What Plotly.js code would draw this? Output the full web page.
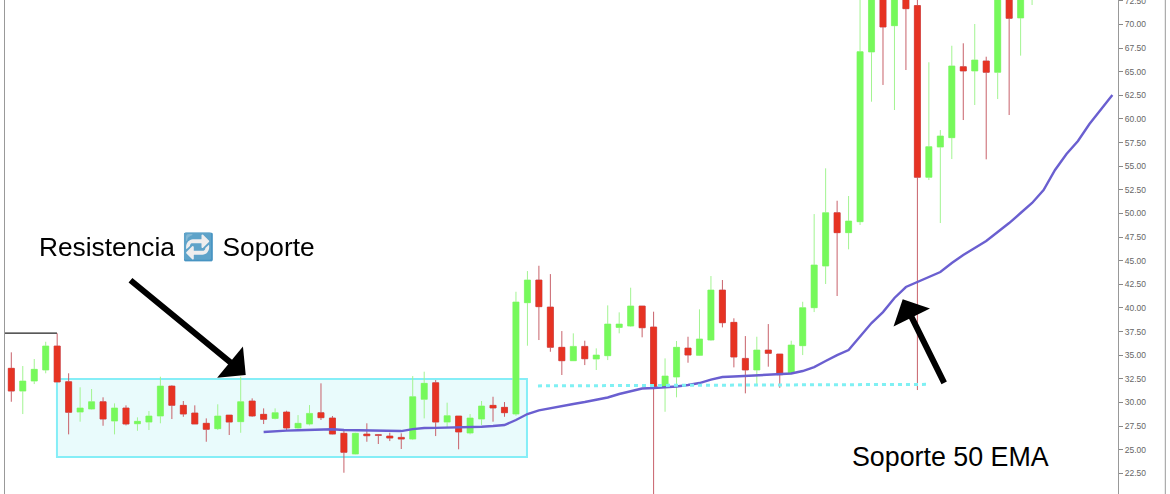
<!DOCTYPE html>
<html><head><meta charset="utf-8">
<script src="https://cdn.plot.ly/plotly-3.0.1.min.js"></script>
<style>html,body{margin:0;padding:0;background:#fff;overflow:hidden;height:494px}
#c{width:1170px;height:514px;position:absolute;left:0;top:-20px}
g.annotation[data-index="2"] text{filter:hue-rotate(172deg) saturate(0.55) brightness(0.95)}</style>
</head><body><div id="c"></div>
<script>
const opens=[33.61,31.20,32.26,33.43,35.97,32.19,28.98,29.30,30.07,28.03,
29.41,27.74,27.92,28.56,31.73,29.69,28.88,27.79,27.22,28.66,
27.96,30.15,28.74,28.31,28.98,27.29,27.71,28.91,28.35,26.73,
24.54,26.65,26.58,26.44,26.30,26.12,30.33,32.08,27.92,28.56,
26.76,28.24,29.69,29.48,28.77,40.55,42.95,40.09,35.83,34.41,
35.93,34.59,34.94,37.94,38.08,40.20,37.98,31.66,32.69,35.75,
34.98,36.60,41.89,38.47,34.66,33.43,35.54,35.12,33.08,36.00,
40.02,44.43,50.07,47.96,49.12,67.08,74.5,69.86,73.5,71.99,
53.82,57.02,58.01,65.52,65.07,66.13,64.93,74,70.68,73.5];
const closes=[31.20,32.26,33.50,35.97,32.16,28.95,29.41,30.07,28.24,29.41,
27.71,28.00,28.56,31.73,29.69,28.77,27.71,27.15,28.56,27.92,
30.07,28.56,28.21,28.91,27.29,27.79,28.84,28.38,26.65,24.72,
26.73,26.47,26.52,26.23,26.12,30.60,32.02,27.92,28.59,26.87,
28.35,29.62,29.41,28.91,40.62,42.95,40.13,35.83,34.41,35.93,
34.62,35.01,38.29,38.29,40.20,37.90,31.66,32.79,35.83,35.01,
36.71,41.89,38.43,34.80,33.43,35.54,35.19,32.93,36.07,40.02,
44.54,50.07,47.96,49.19,67.11,75.0,69.72,74,71.66,53.82,
57.06,58.19,65.60,65.07,66.23,64.93,74,70.64,74,75];
const highs=[35.30,33.85,34.59,36.42,37.31,33.08,31.60,31.42,30.54,29.90,
29.69,28.42,29.09,32.72,31.81,30.15,29.69,28.31,29.80,28.66,
32.72,30.43,29.37,29.37,29.12,28.66,29.72,32.02,28.56,27.00,
26.79,27.79,26.65,26.79,26.73,32.79,33.25,32.37,29.97,28.56,
28.77,30.15,30.60,30.04,41.71,43.90,44.46,43.58,37.55,37.31,
36.53,35.72,40.27,39.53,42.14,40.20,39.60,34.66,36.50,36.95,
39.85,43.37,42.95,38.90,37.02,36.95,38.29,35.12,36.53,40.65,
49.93,54.77,51.34,51.84,73.5,76,76.5,75,75,73.5,
65.99,58.82,67.74,68.00,70.04,66.58,75,75,75,76];
const lows=[30.07,28.77,31.94,33.08,32.16,26.62,27.96,29.25,27.53,26.62,
27.57,27.00,27.08,27.79,28.24,28.48,27.71,25.84,27.08,26.55,
26.79,28.48,27.71,28.21,27.00,27.22,27.57,28.14,26.62,22.56,
24.51,25.84,25.60,25.91,25.07,26.02,28.31,26.44,27.36,25.04,
26.62,27.61,27.96,28.48,28.59,36.00,36.60,35.36,32.90,34.38,
33.95,33.43,34.48,37.31,38.01,36.89,20.0,29.01,30.54,34.20,
34.91,36.53,37.94,33.71,30.96,31.84,33.78,31.55,33.00,35.01,
39.56,42.53,41.26,46.20,48.77,61.82,63.59,60.94,65.17,31.31,
53.53,48.98,55.75,59.88,61.47,55.72,62.10,60.41,66.69,72.05];
const emaStart=22;
const ema=[26.87,26.97,27.02,27.06,27.11,27.15,27.16,27.08,27.05,27.02,26.99,26.97,26.97,27.18,27.29,
27.31,27.33,27.34,27.36,27.43,27.50,27.61,28.14,28.77,29.16,29.41,29.62,29.83,30.04,30.25,
30.52,30.89,31.20,31.47,31.52,31.57,31.68,31.84,32.05,32.42,32.69,32.74,32.79,32.90,32.95,
32.97,33.06,33.32,33.74,34.38,35.01,35.54,37.02,38.40,39.56,41.05,42.21,42.74,43.27,43.80,
44.75,45.60,46.34,47.08,48.03,48.98,50.04,51.10,52.47,54.59,56.28,57.66,59.46,61.05,62.53];
const xRange=[-0.549,96.49], yRange=[20.31,72.58];
const tickVals=[22.5,25,27.5,30,32.5,35,37.5,40,42.5,45,47.5,50,52.5,55,57.5,60,62.5,65,67.5,70,72.5];

const xs=opens.map((_,i)=>i);
const GREEN='#76f95b', RED='#e63323';
const traces=[
 {type:'candlestick',x:xs,open:opens,high:highs,low:lows,close:closes,whiskerwidth:0,hoverinfo:'skip',showlegend:false,
  increasing:{line:{color:'#a2f491',width:1},fillcolor:GREEN},
  decreasing:{line:{color:'#c8616a',width:1},fillcolor:RED}},
 {type:'candlestick',x:xs,open:opens,high:opens.map((v,i)=>Math.max(v,closes[i])),low:opens.map((v,i)=>Math.min(v,closes[i])),close:closes,whiskerwidth:0,hoverinfo:'skip',showlegend:false,
  increasing:{line:{color:GREEN,width:0},fillcolor:GREEN},
  decreasing:{line:{color:RED,width:0},fillcolor:RED}},
 {type:'scatter',mode:'lines',x:ema.map((_,i)=>emaStart+i),y:ema,line:{color:'#6a5fd0',width:2.4},hoverinfo:'skip',showlegend:false},
 {type:'scatter',mode:'lines',x:[45.92,79.83],y:[31.75,31.91],line:{color:'#7ff0f3',width:3,dash:'4px,4px'},hoverinfo:'skip',showlegend:false},
 {type:'scatter',mode:'lines',x:[-0.55,3.98],y:[37.34,37.34],line:{color:'#222',width:1.3},hoverinfo:'skip',showlegend:false}
];
const arrow={xref:'x',yref:'y',axref:'x',ayref:'y',showarrow:true,arrowhead:1,arrowsize:1.13,arrowwidth:6,arrowcolor:'#000',text:'',standoff:0,startstandoff:0};
const label={xref:'paper',yref:'paper',showarrow:false,font:{family:'Liberation Sans, Arial, sans-serif',size:26,color:'#000'},xanchor:'left',yanchor:'middle'};
const layout={
 width:1170,height:514,margin:{l:5,r:52,t:20,b:0,pad:0},paper_bgcolor:'#fff',plot_bgcolor:'#fff',showlegend:false,boxgap:0.24,
 xaxis:{range:xRange,type:'linear',visible:false,fixedrange:true,rangeslider:{visible:false}},
 yaxis:{range:yRange,side:'right',tickmode:'array',tickvals:tickVals,tickformat:'.2f',ticks:'outside',ticklen:4,tickcolor:'#888',tickwidth:1,
  showline:true,mirror:true,linecolor:'#999',linewidth:1,showgrid:false,zeroline:false,tickfont:{family:'Liberation Sans, Arial, sans-serif',size:8.5,color:'#666'},fixedrange:true},
 shapes:[
  {type:'rect',layer:'below',xref:'x',yref:'y',x0:3.98,x1:44.96,y0:24.22,y1:32.47,line:{color:'#85eef7',width:2},fillcolor:'#e9fbfc'},
  {type:'line',xref:'paper',yref:'paper',x0:1.0425,x1:1.0425,y0:0,y1:1,line:{color:'#999',width:1}}
 ],
 annotations:[
  Object.assign({},arrow,{x:20.44,y:32.9,ax:10.26,ay:43.06}),
  Object.assign({},arrow,{x:77.72,y:40.91,ax:81.4,ay:31.91}),
  Object.assign({},label,{x:(37-5)/1113,y:1-247/494,text:'Resistencia 🔁 Soporte',font:{family:'Liberation Sans, Arial, sans-serif',size:26.3,color:'#000'}}),
  Object.assign({},label,{x:(850-5)/1113,y:1-457/494,text:'Soporte 50 EMA',font:{family:'Liberation Sans, Arial, sans-serif',size:26.8,color:'#000'}})
 ]
};
Plotly.newPlot('c',traces,layout,{staticPlot:true,displayModeBar:false});
</script></body></html>
